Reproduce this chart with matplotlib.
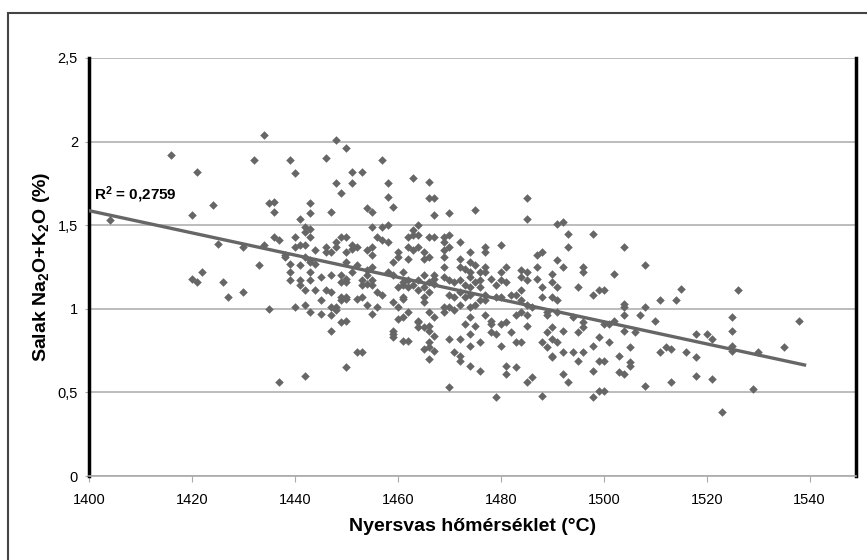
import numpy as np
import matplotlib
matplotlib.use('Agg')
from matplotlib import pyplot as plt
from matplotlib.patches import Rectangle

# nyersvas homerseklet (C)
temp = [1416, 1421, 1432, 1434, 1439, 1440, 1424, 1420, 1404, 1435, 1436, 1436,
        1425, 1430, 1434, 1436, 1437, 1433, 1422, 1420, 1421, 1426, 1427, 1430,
        1448, 1450, 1446, 1457, 1451, 1453, 1448, 1451, 1449, 1458, 1458, 1459,
        1463, 1466, 1466, 1467, 1467, 1470, 1443, 1443, 1447, 1454, 1455, 1441,
        1442, 1443, 1442, 1443, 1455, 1457, 1458, 1464, 1463, 1463, 1462, 1464,
        1440, 1440, 1441, 1442, 1444, 1446, 1447, 1446, 1449, 1450, 1448, 1448,
        1451, 1451, 1452, 1450, 1454, 1455, 1455, 1456, 1457, 1458, 1462, 1463,
        1464, 1460, 1460, 1459, 1462, 1465, 1465, 1466, 1466, 1467, 1469, 1470,
        1469, 1470, 1469, 1472, 1438, 1442, 1439, 1441, 1443, 1444, 1439, 1443,
        1439, 1441, 1441, 1443, 1445, 1447, 1449, 1449, 1450, 1451, 1450, 1452,
        1453, 1454, 1453, 1454, 1455, 1455, 1454, 1458, 1459, 1461, 1462, 1461,
        1463, 1464, 1465, 1466, 1467, 1467, 1467, 1469, 1470, 1471, 1464, 1466,
        1442, 1444, 1446, 1447, 1449, 1450, 1453, 1456, 1457, 1461, 1465, 1470,
        1485, 1475, 1485, 1491, 1492, 1493, 1493, 1498, 1504, 1469, 1469, 1474,
        1477, 1477, 1480, 1472, 1474, 1475, 1472, 1473, 1477, 1476, 1477, 1481,
        1480, 1474, 1474, 1472, 1475, 1476, 1478, 1480, 1476, 1473, 1474, 1479,
        1481, 1484, 1487, 1488, 1484, 1485, 1487, 1484, 1485, 1487, 1488, 1490,
        1491, 1492, 1490, 1491, 1496, 1496, 1495, 1498, 1499, 1502, 1504, 1504,
        1472, 1471, 1473, 1474, 1475, 1477, 1477, 1479, 1476, 1480, 1482, 1483,
        1484, 1485, 1486, 1488, 1490, 1491, 1489, 1489, 1469, 1471, 1470, 1472,
        1474, 1477, 1478, 1480, 1481, 1478, 1483, 1485, 1485, 1474, 1473, 1475,
        1491, 1494, 1496, 1496, 1501, 1502, 1504, 1472, 1474, 1474, 1476, 1478,
        1479, 1480, 1482, 1483, 1484, 1488, 1489, 1490, 1490, 1489, 1491, 1492,
        1495, 1499, 1501, 1498, 1471, 1472, 1490, 1492, 1494, 1496, 1503, 1505,
        1508, 1500, 1515, 1526, 1511, 1514, 1508, 1507, 1500, 1510, 1525, 1525,
        1538, 1506, 1518, 1520, 1521, 1512, 1513, 1525, 1525, 1530, 1535, 1511,
        1516, 1518, 1500, 1505, 1505, 1503, 1504, 1518, 1521, 1508, 1513, 1500,
        1529, 1523, 1435, 1437, 1442, 1440, 1442, 1443, 1445, 1447, 1445, 1447,
        1448, 1448, 1449, 1450, 1452, 1454, 1455, 1456, 1447, 1449, 1450, 1459,
        1460, 1461, 1462, 1460, 1461, 1459, 1459, 1461, 1462, 1452, 1453, 1450,
        1460, 1462, 1464, 1464, 1465, 1465, 1466, 1466, 1466, 1467, 1467, 1466,
        1466, 1466, 1467, 1469, 1470, 1470, 1472, 1474, 1476, 1479, 1481, 1481,
        1483, 1484, 1485, 1486, 1488, 1490, 1492, 1493, 1495, 1499, 1498, 1499,
        1498, 1504, 1438, 1443, 1450, 1455, 1464, 1461, 1465, 1465, 1459]

# salak Na2O+K2O (%)
salak = [1.92, 1.82, 1.89, 2.04, 1.89, 1.81, 1.62, 1.56, 1.53, 1.63, 1.64, 1.58,
         1.39, 1.37, 1.38, 1.43, 1.41, 1.26, 1.22, 1.18, 1.16, 1.16, 1.07, 1.10,
         2.01, 1.96, 1.90, 1.89, 1.82, 1.82, 1.75, 1.75, 1.69, 1.75, 1.67, 1.61,
         1.78, 1.76, 1.66, 1.66, 1.56, 1.57, 1.63, 1.57, 1.58, 1.60, 1.58, 1.54,
         1.49, 1.48, 1.46, 1.43, 1.49, 1.49, 1.50, 1.50, 1.47, 1.44, 1.43, 1.44,
         1.43, 1.37, 1.38, 1.38, 1.35, 1.37, 1.34, 1.34, 1.43, 1.43, 1.40, 1.37,
         1.38, 1.36, 1.37, 1.34, 1.35, 1.37, 1.32, 1.43, 1.41, 1.40, 1.37, 1.35,
         1.37, 1.34, 1.31, 1.28, 1.30, 1.34, 1.30, 1.31, 1.43, 1.43, 1.43, 1.44,
         1.40, 1.37, 1.35, 1.40, 1.31, 1.31, 1.27, 1.26, 1.28, 1.27, 1.22, 1.22,
         1.17, 1.17, 1.14, 1.17, 1.19, 1.20, 1.20, 1.16, 1.16, 1.22, 1.28, 1.26,
         1.17, 1.20, 1.14, 1.15, 1.14, 1.25, 1.23, 1.22, 1.20, 1.22, 1.17, 1.14,
         1.14, 1.17, 1.20, 1.16, 1.18, 1.20, 1.15, 1.19, 1.17, 1.16, 1.11, 1.10,
         1.11, 1.11, 1.11, 1.10, 1.07, 1.07, 1.07, 1.10, 1.08, 1.07, 1.07, 1.08,
         1.66, 1.59, 1.54, 1.51, 1.52, 1.45, 1.37, 1.45, 1.37, 1.31, 1.25, 1.34,
         1.37, 1.34, 1.38, 1.30, 1.28, 1.26, 1.25, 1.24, 1.25, 1.22, 1.22, 1.25,
         1.22, 1.22, 1.19, 1.17, 1.16, 1.17, 1.18, 1.17, 1.13, 1.14, 1.13, 1.14,
         1.16, 1.11, 1.32, 1.34, 1.23, 1.22, 1.25, 1.19, 1.17, 1.18, 1.13, 1.21,
         1.29, 1.25, 1.16, 1.13, 1.25, 1.22, 1.13, 1.08, 1.11, 1.21, 1.03, 1.01,
         1.10, 1.07, 1.07, 1.08, 1.02, 1.08, 1.05, 1.07, 1.05, 1.07, 1.08, 1.08,
         1.05, 1.02, 1.01, 1.07, 1.07, 1.05, 0.98, 0.96, 1.01, 0.99, 1.01, 1.02,
         1.01, 0.96, 0.93, 0.91, 0.92, 0.91, 0.96, 0.96, 0.90, 0.95, 0.91, 0.90,
         0.98, 0.95, 0.92, 0.89, 0.91, 0.93, 0.96, 0.82, 0.85, 0.78, 0.80, 0.86,
         0.85, 0.78, 0.86, 0.80, 0.80, 0.80, 0.86, 0.89, 0.82, 0.77, 0.80, 0.87,
         0.86, 0.83, 0.80, 0.78, 0.74, 0.72, 0.72, 0.74, 0.74, 0.74, 0.72, 0.77,
         1.26, 1.11, 1.12, 1.11, 1.05, 1.05, 1.01, 0.96, 0.91, 0.93, 0.95, 0.87,
         0.93, 0.86, 0.85, 0.85, 0.82, 0.77, 0.76, 0.78, 0.75, 0.74, 0.77, 0.74,
         0.74, 0.71, 0.69, 0.68, 0.66, 0.62, 0.61, 0.60, 0.58, 0.54, 0.56, 0.51,
         0.52, 0.38, 1.00, 0.56, 0.60, 1.01, 1.02, 0.98, 0.97, 0.96, 1.05, 1.01,
         1.01, 0.99, 1.05, 1.06, 1.06, 1.02, 0.97, 1.01, 0.87, 0.92, 0.93, 1.04,
         1.01, 1.06, 0.98, 0.94, 0.95, 0.87, 0.85, 0.81, 0.81, 0.74, 0.74, 0.65,
         1.13, 1.13, 0.93, 0.92, 0.89, 0.76, 0.77, 0.90, 0.87, 0.84, 0.75, 0.70,
         0.80, 0.98, 0.95, 0.98, 0.82, 0.53, 0.69, 0.66, 0.63, 0.47, 0.66, 0.61,
         0.65, 0.98, 0.56, 0.59, 0.48, 0.71, 0.61, 0.56, 0.69, 0.69, 0.63, 0.51,
         0.47, 0.87, 1.32, 1.29, 1.18, 1.17, 0.89, 1.16, 1.13, 1.04, 0.83]

# linearis trendvonal (Excel)
trend_slope = -0.00664
trend_icpt = 10.883
trend_x = [1400, 1539]
r2_label = 'R$^2$ = 0,2759'

x_ticks = [1400, 1420, 1440, 1460, 1480, 1500, 1520, 1540]
y_ticks = [0, 0.5, 1, 1.5, 2, 2.5]
y_ticklabels = ['0', '0,5', '1', '1,5', '2', '2,5']

plt.rcParams['font.family'] = ['Liberation Sans', 'DejaVu Sans']
plt.rcParams['mathtext.default'] = 'regular'

fig = plt.figure(figsize=(8.67, 5.6), dpi=100)
ax = fig.add_axes([89/867, 84/560, 767/867, 418/560])

# keret a diagram korul
fig.patches.append(Rectangle((8/867, -0.05), 1.05, 1.05 - 13/560,
                             transform=fig.transFigure, fill=False,
                             edgecolor='#444444', lw=1.5))

gray = '#666666'
ax.scatter(temp, salak, marker='D', s=19, c=gray, linewidths=0, zorder=3)
tx = np.array(trend_x, dtype=float)
ax.plot(tx, trend_slope * tx + trend_icpt, color=gray, lw=2.4, zorder=4)

ax.set_xlim(1400, 1549)
ax.set_ylim(0, 2.5)
ax.set_xticks(x_ticks)
ax.set_xticklabels([str(t) for t in x_ticks])
ax.set_yticks(y_ticks)
ax.set_yticklabels(y_ticklabels)
ax.yaxis.grid(True, color='#aaaaaa', lw=1.1)
ax.set_axisbelow(True)

ax.spines['left'].set_color('black')
ax.spines['left'].set_linewidth(2.5)
ax.spines['right'].set_color('black')
ax.spines['right'].set_linewidth(2.5)
ax.spines['bottom'].set_color('#aaaaaa')
ax.spines['bottom'].set_linewidth(1.2)
ax.spines['top'].set_visible(False)

ax.tick_params(axis='x', length=4, color='#aaaaaa', labelsize=10.5, pad=8)
ax.tick_params(axis='y', length=3, color='#aaaaaa', labelsize=10.5, pad=5)

ax.set_xlabel('Nyersvas hőmérséklet (°C)', fontsize=14, fontweight='bold')
ax.set_ylabel('Salak Na$_2$O+K$_2$O (%)', fontsize=14, fontweight='bold')
ax.xaxis.set_label_coords(0.5, -0.10)
ax.yaxis.set_label_coords(-0.048, 0.5)

ax.text(1401, 1.68, r2_label, fontsize=11, fontweight='bold', va='center')

fig.savefig('out.png', dpi=100)
